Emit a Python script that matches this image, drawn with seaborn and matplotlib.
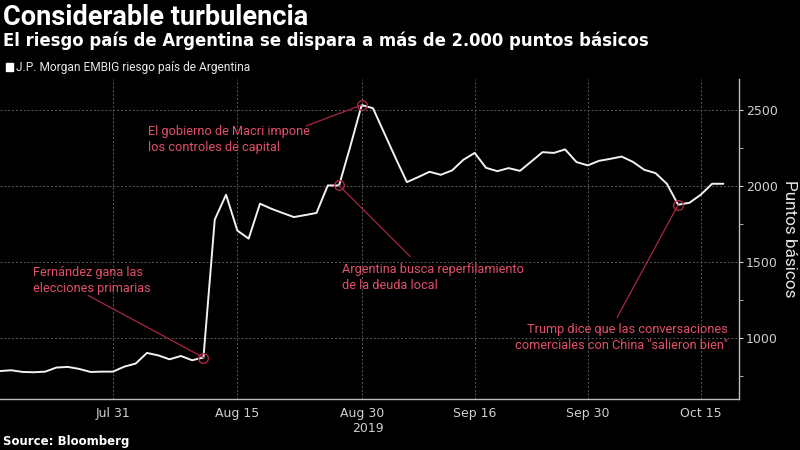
import numpy as np
import pandas as pd
import seaborn as sns
from matplotlib import pyplot as plt
from matplotlib.patches import Patch

# business days shown on the chart (US holidays dropped)
dates = pd.bdate_range("2019-07-17", "2019-10-17")
dates = dates.drop([pd.Timestamp("2019-09-02"), pd.Timestamp("2019-10-14")])

embig = [785, 790, 779, 777, 781, 808, 812, 799, 779, 781,
         781, 814, 834, 904, 888, 862, 884, 856, 874, 1781,
         1945, 1709, 1656, 1886, 1853, 1825, 1798, 1811, 1825, 2006,
         2006, 2265, 2535, 2514, 2350, 2186, 2028, 2061, 2096, 2076,
         2105, 2175, 2220, 2122, 2100, 2120, 2102, 2163, 2225, 2220,
         2243, 2160, 2138, 2168, 2181, 2196, 2161, 2109, 2087, 2017,
         1879, 1892, 1945, 2017, 2017]

tick_dates = ["2019-07-31", "2019-08-15", "2019-08-30", "2019-09-16", "2019-09-30", "2019-10-15"]
tick_labels = ["Jul 31", "Aug 15", "Aug 30\n2019", "Sep 16", "Sep 30", "Oct 15"]
minor_dates = ["2019-07-22", "2019-08-08", "2019-08-23", "2019-09-09", "2019-09-23", "2019-10-08"]

# (date of the circled point, text)
events = [("2019-08-12", "Fernández gana las\nelecciones primarias"),
          ("2019-08-30", "El gobierno de Macri impone\nlos controles de capital"),
          ("2019-08-28", "Argentina busca reperfilamiento\nde la deuda local"),
          ("2019-10-10", "Trump dice que las conversaciones\ncomerciales con China \"salieron bien\"")]

df = pd.DataFrame({"pos": np.arange(len(dates)), "date": dates, "value": embig})

sns.set_style("dark")
plt.rcParams["font.family"] = ["Roboto", "DejaVu Sans"]
plt.rcParams["axes.facecolor"] = "black"
plt.rcParams["figure.facecolor"] = "black"

fig = plt.figure(figsize=(8, 4.5), dpi=100)
ax = fig.add_axes([0.0, 0.113, 0.924, 0.711])
ax.set_facecolor("black")

sns.lineplot(data=df, x="pos", y="value", ax=ax, color="#f2f2f2", linewidth=1.4)

ax.set_xlim(0, 65.4)
ax.set_ylim(600, 2705)

xt = [dates.get_loc(pd.Timestamp(d)) for d in tick_dates]
ax.set_xticks(xt)
ax.set_xticklabels(tick_labels, family="DejaVu Sans")
for lab in ax.get_xticklabels():
    lab.set_multialignment("right")
ax.set_xticks([dates.get_loc(pd.Timestamp(d)) for d in minor_dates], minor=True)
ax.set_yticks([1000, 1500, 2000, 2500])
ax.set_yticks([750, 1250, 1750, 2250], minor=True)
ax.set_yticklabels(["1000", "1500", "2000", "2500"], family="DejaVu Sans")

ax.yaxis.tick_right()
ax.yaxis.set_label_position("right")
ax.set_xlabel("")
ax.set_ylabel("Puntos básicos", rotation=270, color="#e6e6e6", fontsize=12.3, labelpad=14)

ax.tick_params(axis="both", which="both", colors="#cfcfcf", labelsize=9, direction="out")
ax.tick_params(axis="x", which="major", length=0, pad=6)
ax.tick_params(axis="x", which="minor", length=3)
ax.tick_params(axis="y", which="both", length=3, pad=2)

for side in ["left", "top"]:
    ax.spines[side].set_visible(False)
for side in ["right", "bottom"]:
    ax.spines[side].set_visible(True)
    ax.spines[side].set_color("#bdbdbd")
    ax.spines[side].set_linewidth(1)

ax.grid(True, which="major", color="#5a5a5a", linestyle=(0, (2, 2)), linewidth=0.7)

red_line = "#a8283f"
red_text = "#e2506a"

# annotation line ends and text anchors (data coords)
line_ends = [(7.8, 1282), (27.1, 2398), (36.3, 1538), (54.6, 1138)]
text_pos = [(2.9, 1475, "left"), (13.1, 2402, "left"), (30.3, 1497, "left"), (64.4, 1103, "right")]

for (d, txt), (lx, ly), (tx, ty, ha) in zip(events, line_ends, text_pos):
    p = dates.get_loc(pd.Timestamp(d))
    v = embig[p]
    ax.plot([p, lx], [v, ly], color=red_line, linewidth=0.9, zorder=3)
    ax.plot([p], [v], marker="o", markersize=7, markerfacecolor="none",
            markeredgecolor=red_line, markeredgewidth=1, zorder=4)
    ax.text(tx, ty, txt, color=red_text, fontsize=9.2, ha=ha, va="top", linespacing=1.3)

fig.text(0.004, 0.962, "Considerable turbulencia", color="white", fontsize=19.5,
         fontweight="bold", va="center", ha="left")
fig.text(0.004, 0.909, "El riesgo país de Argentina se dispara a más de 2.000 puntos básicos",
         color="white", fontsize=11.9, fontweight="bold", va="center", ha="left",
         family="DejaVu Sans")
fig.text(0.004, 0.02, "Source: Bloomberg", color="white", fontsize=8.5,
         fontweight="bold", va="center", ha="left", family="DejaVu Sans")

ax.legend(handles=[Patch(facecolor="white", edgecolor="white")],
          labels=["J.P. Morgan EMBIG riesgo país de Argentina"],
          loc="center left", bbox_to_anchor=(0.004, 0.849), bbox_transform=fig.transFigure,
          frameon=False, fontsize=8.6, handlelength=0.6, handleheight=0.6,
          handletextpad=0.3, borderaxespad=0, borderpad=0.2, labelcolor="#e6e6e6")

fig.savefig("out.png", dpi=100, facecolor="black")
